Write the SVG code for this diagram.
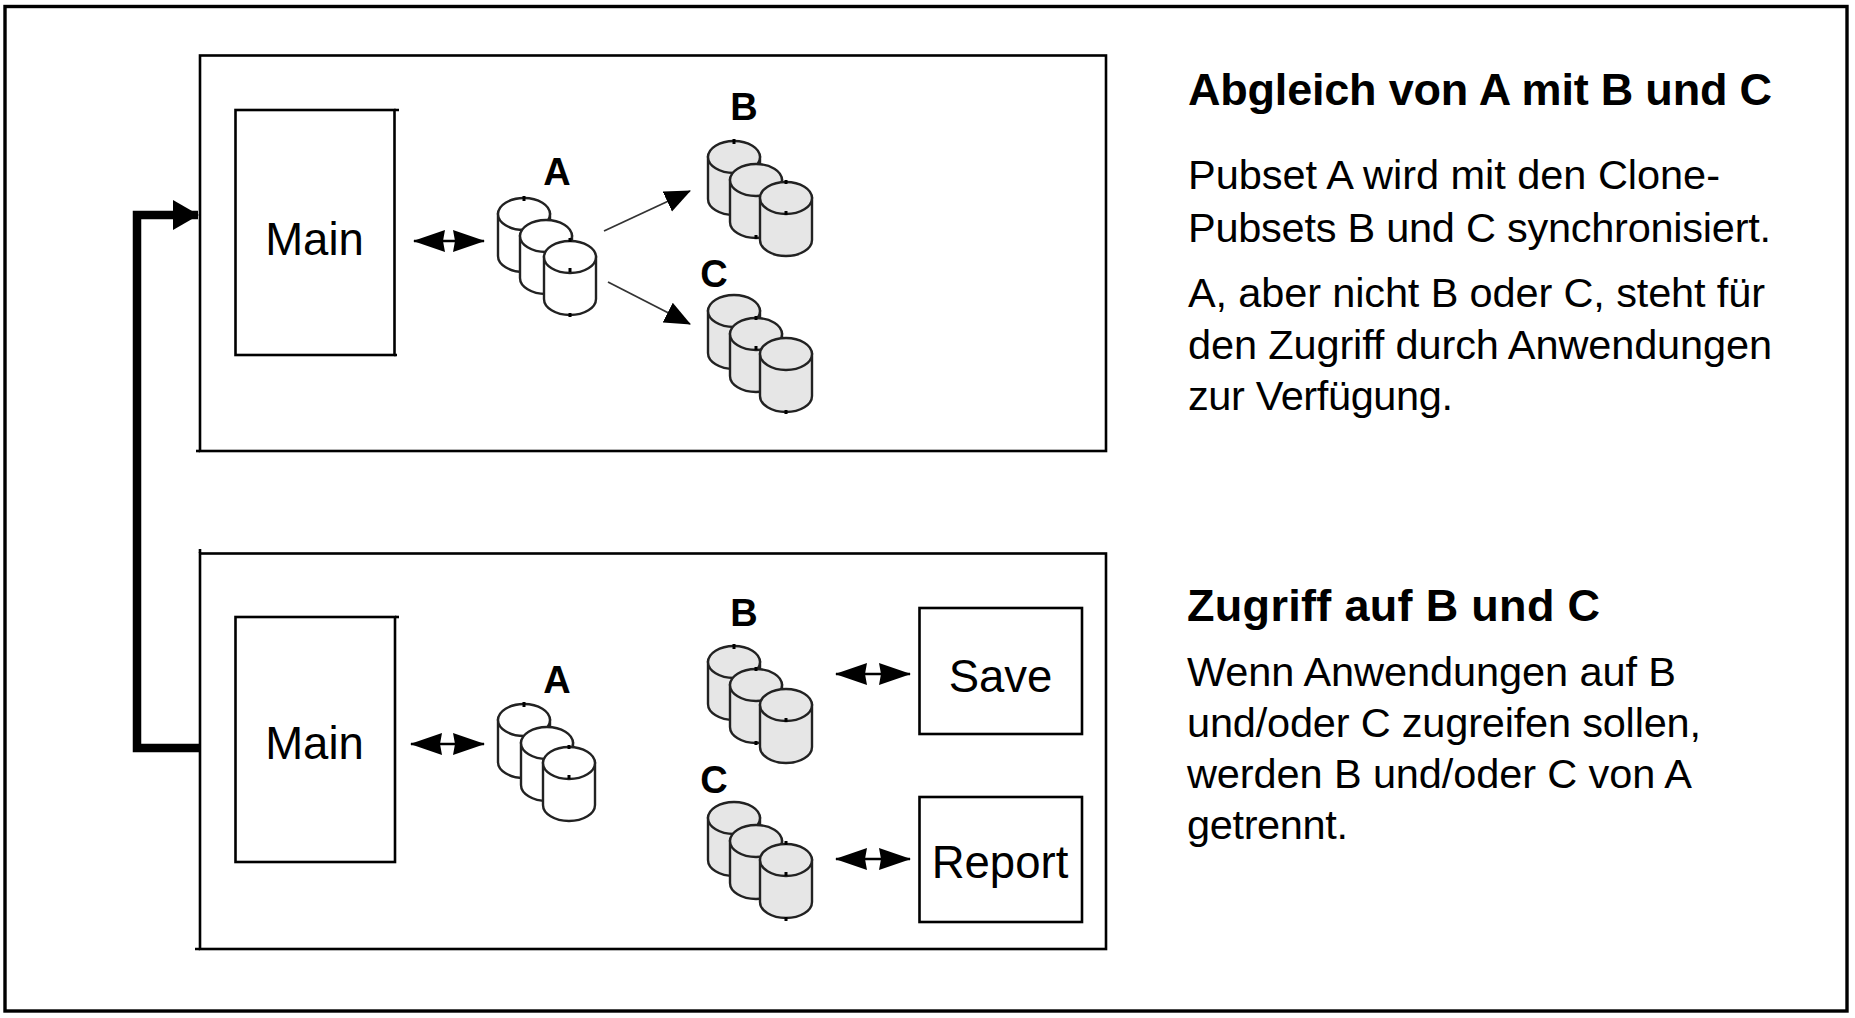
<svg xmlns="http://www.w3.org/2000/svg" xmlns:xlink="http://www.w3.org/1999/xlink" width="1855" height="1018" viewBox="0 0 1855 1018">
<style>
.box{fill:#fff;stroke:#000;stroke-width:2.6}
.tick{fill:none;stroke:#000;stroke-width:2.6}
.frame{fill:#fff;stroke:#000;stroke-width:3.4}
text{font-family:"Liberation Sans",Arial,sans-serif;fill:#000}
.name{font-size:45.500px;text-anchor:middle}
.lab{font-size:38px;font-weight:bold;text-anchor:middle}
.h{font-size:45px;font-weight:bold}
.b{font-size:41.500px}
.cyl{stroke:#222;stroke-width:2.400}
.white{fill:#fff}
.grey{fill:#e6e6e6}
.dot{fill:#000}
.dbl{fill:none;stroke:#000;stroke-width:2.4;marker-start:url(#dh);marker-end:url(#dh)}
.thin{fill:none;stroke:#333;stroke-width:1.8;marker-end:url(#ah)}
.thick{fill:none;stroke:#000;stroke-width:8.5;marker-end:url(#th)}
</style>
<defs>
<marker id="dh" markerUnits="userSpaceOnUse" viewBox="0 0 32 24" refX="31" refY="12" markerWidth="32" markerHeight="24" orient="auto-start-reverse"><path d="M32,12 L0,1 L2,12 L0,23 Z" fill="#000"/></marker>
<marker id="ah" markerUnits="userSpaceOnUse" viewBox="0 0 26 24" refX="25" refY="12" markerWidth="26" markerHeight="24" orient="auto"><path d="M26,12 L0,1 L0,23 Z" fill="#000"/></marker>
<marker id="th" markerUnits="userSpaceOnUse" viewBox="0 0 26 30" refX="25" refY="15" markerWidth="26" markerHeight="30" orient="auto"><path d="M26,15 L0,0 L0,30 Z" fill="#000"/></marker>
<g id="c"><path class="cyl" d="M0,16 V58 A26,16 0 0 0 52,58 V16 Z"/><ellipse class="cyl" cx="26" cy="16" rx="26" ry="16"/></g>
</defs>
<rect id="outer-frame" class="frame" x="5" y="6.500" width="1842" height="1004.500"/>

<g id="panel-top"><rect class="box" x="200" y="55.500" width="906" height="395.500"/><path class="tick" d="M196,451 H200"/></g>
<g id="panel-bottom"><rect class="box" x="200" y="553.500" width="906" height="395.500"/><path class="tick" d="M200,549 V553 M195,949 H200"/></g>

<g id="main-1"><rect class="box" x="235.500" y="110" width="159" height="245"/><path class="tick" d="M394,110 H399 M394,355 H397"/><text class="name" x="314.500" y="255">Main</text></g>
<g id="main-2"><rect class="box" x="235.500" y="617" width="159.500" height="245"/><path class="tick" d="M395,617 H399"/><text class="name" x="314.500" y="759">Main</text></g>

<g id="stack-a1" class="white"><use xlink:href="#c" href="#c" x="498" y="198"/><use xlink:href="#c" href="#c" x="520" y="220"/><use xlink:href="#c" href="#c" x="544" y="241"/><text class="lab" x="557" y="185">A</text><path class="dot" d="M522.500,196h3v5h-3z M568.500,268h3v4h-3z M568.500,313h3v4h-3z M568.500,238h3v4h-3z"/></g>
<g id="stack-b1" class="grey"><use xlink:href="#c" href="#c" x="708" y="141"/><use xlink:href="#c" href="#c" x="730" y="164"/><use xlink:href="#c" href="#c" x="760" y="182"/><text class="lab" x="744" y="120">B</text><path class="dot" d="M732.500,139h3v5h-3z M784.500,180h3v4h-3z M784.500,211h3v4h-3z M754.500,235h3v4h-3z"/></g>
<g id="stack-c1" class="grey"><use xlink:href="#c" href="#c" x="708" y="295"/><use xlink:href="#c" href="#c" x="730" y="318"/><use xlink:href="#c" href="#c" x="760" y="338"/><text class="lab" x="714" y="287">C</text><path class="dot" d="M754.500,316h3v4h-3z M754.500,346h3v4h-3z M784.500,410h3v4h-3z"/></g>
<g id="stack-a2" class="white"><use xlink:href="#c" href="#c" x="498" y="704"/><use xlink:href="#c" href="#c" x="521" y="727"/><use xlink:href="#c" href="#c" x="543" y="747"/><text class="lab" x="557" y="693">A</text><path class="dot" d="M522.500,702h3v5h-3z M567.500,745h3v4h-3z M567.500,775h3v4h-3z"/></g>
<g id="stack-b2" class="grey"><use xlink:href="#c" href="#c" x="708" y="646"/><use xlink:href="#c" href="#c" x="730" y="669"/><use xlink:href="#c" href="#c" x="760" y="689"/><text class="lab" x="744" y="626">B</text><path class="dot" d="M732.500,644h3v5h-3z M754.500,667h3v4h-3z M784.500,718h3v4h-3z M754.500,741h3v4h-3z"/></g>
<g id="stack-c2" class="grey"><use xlink:href="#c" href="#c" x="708" y="802"/><use xlink:href="#c" href="#c" x="730" y="825"/><use xlink:href="#c" href="#c" x="760" y="844"/><text class="lab" x="714" y="793">C</text><path class="dot" d="M784.500,841h3v4h-3z M784.500,872h3v4h-3z M784.500,917h3v4h-3z"/></g>

<g id="save"><rect class="box" x="919.500" y="608" width="162.500" height="126"/><text class="name" x="1000.500" y="692">Save</text></g>
<g id="report"><rect class="box" x="919.500" y="797" width="162.500" height="125"/><text class="name" x="1000" y="878">Report</text></g>

<g id="connectors">
<path class="thick" d="M200,748 H137 V215 H198"/>
<path class="dbl" d="M414,241 H484"/>
<path class="dbl" d="M411,744 H484"/>
<path class="dbl" d="M836,674 H910"/>
<path class="dbl" d="M836,859 H910"/>
<path class="thin" d="M604,231 L690,191"/>
<path class="thin" d="M608,282 L690,324"/>
</g>

<g id="desc-1">
<text class="h" x="1188" y="105" textLength="584" lengthAdjust="spacing">Abgleich von A mit B und C</text>
<text class="b" x="1188" y="189" textLength="532" lengthAdjust="spacing">Pubset A wird mit den Clone-</text>
<text class="b" x="1188" y="242" textLength="583" lengthAdjust="spacing">Pubsets B und C synchronisiert.</text>
<text class="b" x="1188" y="307" textLength="577" lengthAdjust="spacing">A, aber nicht B oder C, steht für</text>
<text class="b" x="1188" y="359" textLength="584" lengthAdjust="spacing">den Zugriff durch Anwendungen</text>
<text class="b" x="1188" y="410" textLength="265" lengthAdjust="spacing">zur Verfügung.</text>
</g>
<g id="desc-2">
<text class="h" x="1187" y="621" textLength="413" lengthAdjust="spacing">Zugriff auf B und C</text>
<text class="b" x="1187" y="686" textLength="489" lengthAdjust="spacing">Wenn Anwendungen auf B</text>
<text class="b" x="1187" y="737" textLength="514" lengthAdjust="spacing">und/oder C zugreifen sollen,</text>
<text class="b" x="1187" y="788" textLength="505" lengthAdjust="spacing">werden B und/oder C von A</text>
<text class="b" x="1187" y="839" textLength="161" lengthAdjust="spacing">getrennt.</text>
</g>
</svg>
